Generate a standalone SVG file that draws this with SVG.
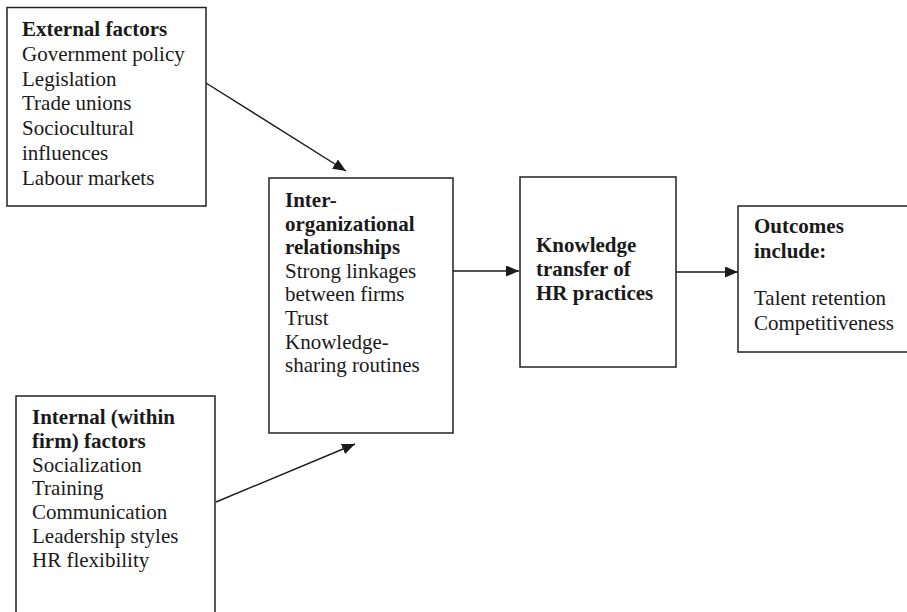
<svg xmlns="http://www.w3.org/2000/svg" width="907" height="612" viewBox="0 0 907 612">
<style>
.box{fill:#fff;stroke:#222;stroke-width:1.5}
.t{font-family:"Liberation Serif","Times New Roman",serif;font-size:21px;fill:#1a1a1a}
.b{font-weight:bold}
.c{stroke:#1a1a1a;stroke-width:1.4;fill:none}
</style>
<defs>
<marker id="ah" markerUnits="userSpaceOnUse" markerWidth="14" markerHeight="12" refX="13" refY="5.5" orient="auto">
<path d="M0,0 L13,5.5 L0,11 z" fill="#1a1a1a"/>
</marker>
</defs>
<rect width="907" height="612" fill="#fff"/>
<g id="external">
<rect class="box" x="7" y="7.5" width="199" height="198.5"/>
<text class="t" x="22" y="36"><tspan class="b">External factors</tspan><tspan x="22" y="60.8">Government policy</tspan><tspan x="22" y="85.6">Legislation</tspan><tspan x="22" y="110.4">Trade unions</tspan><tspan x="22" y="135.2">Sociocultural</tspan><tspan x="22" y="160">influences</tspan><tspan x="22" y="184.8">Labour markets</tspan></text>
</g>
<g id="interorg">
<rect class="box" x="269" y="178" width="184" height="255"/>
<text class="t" x="285" y="207"><tspan class="b">Inter-</tspan><tspan class="b" x="285" y="230.6">organizational</tspan><tspan class="b" x="285" y="254.2">relationships</tspan><tspan x="285" y="277.8">Strong linkages</tspan><tspan x="285" y="301.4">between firms</tspan><tspan x="285" y="325">Trust</tspan><tspan x="285" y="348.6">Knowledge-</tspan><tspan x="285" y="372">sharing routines</tspan></text>
</g>
<g id="knowledge">
<rect class="box" x="520" y="177" width="156" height="190"/>
<text class="t b" x="536" y="252">Knowledge<tspan x="536" y="276">transfer of</tspan><tspan x="536" y="300">HR practices</tspan></text>
</g>
<g id="outcomes">
<rect class="box" x="738" y="206" width="170" height="146"/>
<text class="t" x="754" y="233"><tspan class="b">Outcomes</tspan><tspan class="b" x="754" y="258">include:</tspan><tspan x="754" y="305">Talent retention</tspan><tspan x="754" y="330">Competitiveness</tspan></text>
</g>
<g id="internal">
<rect class="box" x="16" y="396" width="199" height="230"/>
<text class="t" x="32" y="424"><tspan class="b">Internal (within</tspan><tspan class="b" x="32" y="448">firm) factors</tspan><tspan x="32" y="472">Socialization</tspan><tspan x="32" y="495">Training</tspan><tspan x="32" y="519">Communication</tspan><tspan x="32" y="543">Leadership styles</tspan><tspan x="32" y="567">HR flexibility</tspan></text>
</g>
<g id="connectors">
<line class="c" x1="206" y1="83" x2="346" y2="171" marker-end="url(#ah)"/>
<line class="c" x1="216" y1="502" x2="355" y2="444" marker-end="url(#ah)"/>
<line class="c" x1="453" y1="271" x2="519" y2="271" marker-end="url(#ah)"/>
<line class="c" x1="676" y1="272" x2="738" y2="272" marker-end="url(#ah)"/>
</g>
</svg>
